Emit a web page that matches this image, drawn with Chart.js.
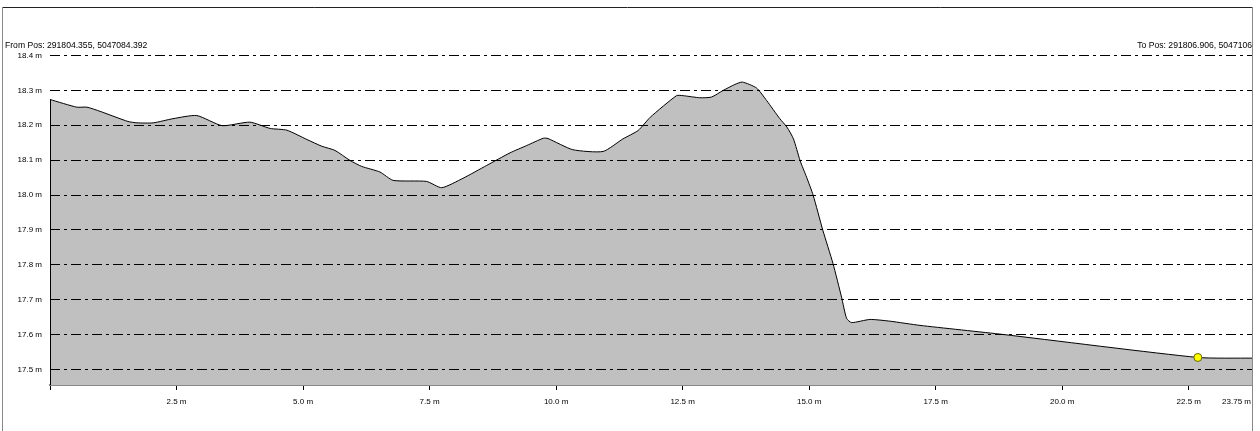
<!DOCTYPE html>
<html>
<head>
<meta charset="utf-8">
<script src="https://cdn.jsdelivr.net/npm/chart.js@4/dist/chart.umd.min.js"></script>
<style>
  body { margin: 0; background: #fff; }
  #wrap { width: 1260px; height: 431px; }
</style>
</head>
<body>
<div id="wrap"><canvas id="theChart" width="1260" height="431"></canvas></div>
<script>
// profile: distance (m) and elevation (m)
var distances = [0, 0.53, 0.73, 0.99, 1.54, 1.72, 2.04, 2.43, 2.90, 3.40, 3.95, 4.35, 4.68, 5.08, 5.37, 5.63, 5.93, 6.16, 6.52, 6.78, 7.44, 7.74, 8.16, 8.63, 9.09, 9.42, 9.75, 9.84, 10.33, 10.93, 11.32, 11.62, 11.86, 12.38, 12.51, 12.84, 13.07, 13.30, 13.53, 13.68, 13.96, 14.16, 14.42, 14.56, 14.69, 14.82, 14.95, 15.08, 15.27, 15.47, 15.64, 15.74, 15.84, 16.20, 16.60, 17.19, 18.83, 22.68, 23.75];
var elevations = [18.274, 18.252, 18.252, 18.240, 18.211, 18.207, 18.207, 18.219, 18.228, 18.199, 18.209, 18.191, 18.186, 18.159, 18.140, 18.128, 18.099, 18.082, 18.066, 18.042, 18.039, 18.021, 18.048, 18.085, 18.121, 18.142, 18.163, 18.162, 18.130, 18.125, 18.161, 18.185, 18.223, 18.285, 18.285, 18.279, 18.281, 18.300, 18.317, 18.324, 18.307, 18.271, 18.219, 18.195, 18.161, 18.099, 18.051, 17.999, 17.899, 17.804, 17.707, 17.646, 17.634, 17.643, 17.638, 17.626, 17.600, 17.534, 17.532];

// cursor point (yellow dot)
var markerDist = [22.68];
var markerElev = [17.534];

var xTicks = [0, 2.5, 5.0, 7.5, 10.0, 12.5, 15.0, 17.5, 20.0, 22.5, 23.75];
var yTicks = [17.5, 17.6, 17.7, 17.8, 17.9, 18.0, 18.1, 18.2, 18.3, 18.4];

var fromText = "From Pos: 291804.355, 5047084.392";
var toText = "To Pos: 291806.906, 5047106";

var FAMILY = '"Liberation Sans", Arial, sans-serif';

var profile = distances.map(function(d, i) { return { x: d, y: elevations[i] }; });
var marker = markerDist.map(function(d, i) { return { x: d, y: markerElev[i] }; });

// frame + header texts + the last x label (it sits right-aligned at the edge)
var decorations = {
  id: 'decorations',
  afterDraw: function(chart) {
    var ctx = chart.ctx;
    var area = chart.chartArea;
    ctx.save();
    ctx.lineWidth = 1;
    ctx.strokeStyle = '#222';
    ctx.beginPath();
    ctx.moveTo(2, 7.5);
    ctx.lineTo(area.right + 1, 7.5);
    ctx.stroke();
    ctx.strokeStyle = '#888';
    ctx.beginPath();
    ctx.moveTo(2.5, 7);
    ctx.lineTo(2.5, 431);
    ctx.moveTo(area.right + 0.5, 7);
    ctx.lineTo(area.right + 0.5, 431);
    ctx.stroke();

    // left edge of the profile
    var yTop = chart.scales.y.getPixelForValue(elevations[0]);
    ctx.strokeStyle = '#000';
    ctx.beginPath();
    ctx.moveTo(area.left + 0.5, yTop);
    ctx.lineTo(area.left + 0.5, area.bottom);
    ctx.stroke();

    ctx.font = '8.6px ' + FAMILY;
    ctx.fillStyle = '#000';
    ctx.textBaseline = 'middle';
    ctx.textAlign = 'left';
    ctx.fillText(fromText, 5, 46);
    ctx.save();
    ctx.beginPath();
    ctx.rect(0, 0, area.right, 431);
    ctx.clip();
    ctx.textAlign = 'right';
    ctx.fillText(toText, area.right, 46);
    ctx.restore();

    ctx.font = '8px ' + FAMILY;
    ctx.textAlign = 'right';
    ctx.fillText(xTicks[xTicks.length - 1] + ' m', area.right - 1, 402);
    ctx.restore();
  }
};

var ctx = document.getElementById("theChart").getContext('2d');

var profileChart = new Chart(ctx, {
  type: 'line',
  data: {
    datasets: [{
      type: 'scatter',
      data: marker,
      pointRadius: 4,
      pointBackgroundColor: '#ffff00',
      pointBorderColor: '#666600',
      pointBorderWidth: 1
    }, {
      data: profile,
      borderColor: '#000',
      borderWidth: 1,
      backgroundColor: '#c0c0c0',
      fill: 'start',
      tension: 0.2,
      pointRadius: 0
    }]
  },
  options: {
    responsive: false,
    animation: false,
    events: [],
    layout: { padding: { top: 50, right: 8, left: 0, bottom: 0 } },
    plugins: { legend: { display: false }, tooltip: { enabled: false } },
    scales: {
      x: {
        type: 'linear',
        min: 0,
        max: 23.75,
        afterFit: function(scale) { scale.height = 46; },
        afterBuildTicks: function(scale) {
          scale.ticks = xTicks.map(function(v) { return { value: v }; });
        },
        grid: { drawOnChartArea: false, drawTicks: true, tickLength: 5, color: '#000' },
        border: { display: true, color: '#888', width: 2 },
        ticks: {
          autoSkip: false,
          maxRotation: 0,
          padding: 7,
          color: '#000',
          font: { family: FAMILY, size: 8 },
          callback: function(v) {
            if (v === 0 || v === 23.75) return '';
            return v.toFixed(1) + ' m';
          }
        }
      },
      y: {
        type: 'linear',
        min: 17.455,
        max: 18.416,
        afterFit: function(scale) { scale.width = 50; },
        afterBuildTicks: function(scale) {
          scale.ticks = yTicks.map(function(v) { return { value: v }; });
        },
        // z: 1 puts the grid lines on top of the grey profile
        grid: { drawTicks: false, color: '#000', lineWidth: 1, z: 1 },
        border: { display: false, dash: [10, 4, 3, 4] },
        ticks: {
          padding: 8,
          color: '#000',
          font: { family: FAMILY, size: 8 },
          callback: function(v) { return v.toFixed(1) + ' m'; }
        }
      }
    }
  },
  plugins: [decorations]
});
</script>
</body>
</html>
